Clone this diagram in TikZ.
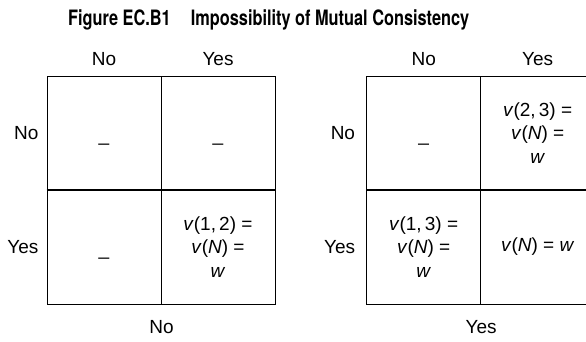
\documentclass[tikz,border=0pt]{standalone}
\usepackage{fontspec}
\setmainfont{Liberation Sans}
\newfontfamily\titlefont[FakeStretch=0.77]{TeX Gyre Heros}
\usetikzlibrary{positioning}
\tikzset{
  cell/.style    = {draw=black, line width=0.9pt, minimum width=114pt, minimum height=114pt, inner sep=0pt, align=center, font=\fontsize{19}{23.5}\selectfont},
  blank/.style   = {cell, text height=17pt, text depth=0pt},
  lbl/.style     = {font=\fontsize{19}{23.5}\selectfont, inner sep=0pt},
  ttl/.style     = {font=\titlefont\bfseries\fontsize{21.2}{24}\selectfont, inner sep=0pt, anchor=base west},
  midline/.style = {draw=black, line width=1.5pt},
}
\newcommand{\mcv}{\textit{v}}

\begin{document}
\begin{tikzpicture}[x=1pt,y=1pt]
  \useasboundingbox (0,0) rectangle (586,342);
  \clip (0,0) rectangle (586,342);
  \node[ttl] (title) at (68,316) {Figure EC.B1\hspace{20pt}Impossibility of Mutual Consistency};

  % ---- left table ----
  \node[blank] (a11) at (104,209) {\_};
  \node[blank] (a12) at (218,209) {\_};
  \node[blank] (a21) at (104,95) {\_};
  \node[cell]  (a22) at (218,95) {\mcv(1,\,2) =\\ \mcv(\textit{N}) =\\ \textit{w}};
  \draw[midline] (a21.north west) -- (a22.north east);
  \node[lbl, above=10pt of a11] (a-c1) {No};
  \node[lbl, above=10pt of a12] (a-c2) {Yes};
  \node[lbl, left=8pt of a11] (a-r1) {No};
  \node[lbl, left=8pt of a21] (a-r2) {Yes};
  \node[lbl, below=16pt of a21.south east] (a-b) {No};

  % ---- right table ----
  \node[blank] (b11) at (423.7,209) {\_};
  \node[cell]  (b12) at (537.7,209) {\mcv(2,\,3) =\\ \mcv(\textit{N}) =\\ \textit{w}};
  \node[cell]  (b21) at (423.7,95) {\mcv(1,\,3) =\\ \mcv(\textit{N}) =\\ \textit{w}};
  \node[cell]  (b22) at (537.7,95) {\mcv(\textit{N}) = \textit{w}};
  \draw[midline] (b21.north west) -- (b22.north east);
  \node[lbl, above=10pt of b11] (b-c1) {No};
  \node[lbl, above=10pt of b12] (b-c2) {Yes};
  \node[lbl, left=11pt of b11] (b-r1) {No};
  \node[lbl, left=11pt of b21] (b-r2) {Yes};
  \node[lbl, below=16pt of b21.south east] (b-b) {Yes};
\end{tikzpicture}
\end{document}
